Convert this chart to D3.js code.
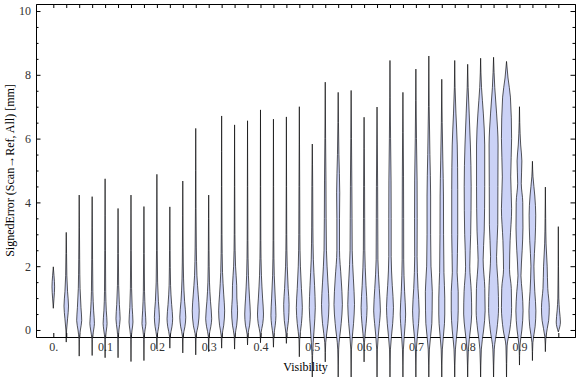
<!DOCTYPE html>
<html>
<head>
<meta charset="utf-8">
<script src="https://cdn.jsdelivr.net/npm/d3@7"></script>
<style>
  body { margin: 0; background: #fff; }
  svg { display: block; }
</style>
</head>
<body>
<div id="chart"></div>
<script>
// visibility bins (one violin per bin)
const visibility = [0, 0.025, 0.05, 0.075, 0.1, 0.125, 0.15, 0.175, 0.2, 0.225,
  0.25, 0.275, 0.3, 0.325, 0.35, 0.375, 0.4, 0.425, 0.45, 0.475,
  0.5, 0.525, 0.55, 0.575, 0.6, 0.625, 0.65, 0.675, 0.7, 0.725,
  0.75, 0.775, 0.8, 0.825, 0.85, 0.875, 0.9, 0.925, 0.95, 0.975];

// density profile of each violin: [signed error in mm, relative density]
const violins = [
  [[0.68,0],[1.0,0.12],[1.35,0.22],[1.7,0.12],[1.98,0]],
  [[-0.38,0],[0,0.06],[0.35,0.22],[0.75,0.38],[1.2,0.22],[1.7,0.1],[2.4,0.05],[3.06,0]],
  [[-0.82,0],[-0.3,0.04],[0,0.2],[0.3,0.42],[0.7,0.3],[1.3,0.15],[2.2,0.08],[3.2,0.04],[4.23,0]],
  [[-0.8,0],[-0.3,0.04],[0,0.25],[0.2,0.38],[0.6,0.25],[1.2,0.12],[2.2,0.07],[3.2,0.04],[4.18,0]],
  [[-0.87,0],[-0.3,0.04],[0,0.22],[0.2,0.33],[0.6,0.2],[1.2,0.1],[2.5,0.06],[3.6,0.03],[4.74,0]],
  [[-0.87,0],[-0.3,0.04],[0,0.15],[0.35,0.35],[0.8,0.22],[1.4,0.1],[2.4,0.05],[3.81,0]],
  [[-0.99,0],[-0.3,0.04],[0,0.18],[0.25,0.33],[0.7,0.2],[1.3,0.1],[2.5,0.05],[4.23,0]],
  [[-0.96,0],[-0.3,0.04],[0,0.18],[0.2,0.33],[0.6,0.22],[1.2,0.1],[2.4,0.05],[3.87,0]],
  [[-0.6,0],[-0.2,0.05],[0.1,0.3],[0.4,0.42],[0.9,0.25],[1.5,0.12],[2.5,0.06],[3.7,0.03],[4.88,0]],
  [[-0.57,0],[-0.2,0.06],[0.1,0.35],[0.35,0.47],[0.8,0.3],[1.4,0.12],[2.5,0.05],[3.86,0]],
  [[-0.72,0],[-0.2,0.06],[0.1,0.35],[0.4,0.5],[0.9,0.3],[1.6,0.13],[2.6,0.06],[3.6,0.03],[4.67,0]],
  [[-0.78,0],[-0.2,0.06],[0.15,0.4],[0.6,0.58],[1.1,0.42],[1.7,0.2],[2.6,0.1],[3.8,0.05],[5,0.03],[6.32,0]],
  [[-0.68,0],[-0.2,0.06],[0.1,0.35],[0.35,0.5],[0.9,0.3],[1.5,0.13],[2.5,0.06],[3.5,0.03],[4.23,0]],
  [[-0.57,0],[-0.2,0.06],[0.15,0.35],[0.6,0.5],[1.1,0.35],[1.8,0.15],[3,0.06],[4.5,0.03],[5.6,0.02],[6.71,0]],
  [[-0.6,0],[-0.2,0.06],[0.15,0.35],[0.6,0.5],[1.0,0.38],[1.4,0.35],[2.0,0.16],[3,0.06],[4.5,0.03],[6.43,0]],
  [[-0.47,0],[-0.15,0.06],[0.15,0.35],[0.5,0.47],[1.0,0.33],[1.7,0.15],[2.8,0.06],[4.5,0.03],[6.56,0]],
  [[-0.4,0],[-0.1,0.08],[0.2,0.38],[0.5,0.5],[1.0,0.35],[1.7,0.16],[2.8,0.06],[4.5,0.03],[6.9,0]],
  [[-0.54,0],[-0.2,0.06],[0.15,0.3],[0.45,0.42],[1.0,0.3],[1.7,0.14],[2.8,0.06],[4.5,0.03],[6.61,0]],
  [[-0.42,0],[-0.1,0.08],[0.3,0.35],[0.8,0.45],[1.3,0.3],[2.0,0.14],[3,0.06],[4.5,0.03],[6.68,0]],
  [[-0.84,0],[-0.3,0.06],[0.2,0.35],[0.7,0.5],[1.3,0.35],[2.0,0.18],[3,0.09],[4.5,0.06],[5.8,0.03],[7.0,0]],
  [[-1.6,0],[-0.8,0.05],[0,0.3],[0.7,0.5],[1.4,0.38],[2.2,0.18],[3.2,0.1],[4.5,0.07],[5.2,0.04],[5.83,0]],
  [[-1.0,0],[-0.4,0.08],[0.2,0.45],[0.8,0.62],[1.5,0.45],[2.5,0.2],[3.5,0.15],[4.7,0.12],[6,0.06],[7.77,0]],
  [[-1.6,0],[-0.6,0.08],[0.2,0.5],[0.8,0.7],[1.6,0.5],[2.5,0.22],[3.5,0.22],[4.3,0.26],[5.5,0.12],[6.5,0.05],[7.45,0]],
  [[-1.6,0],[-0.6,0.06],[0.2,0.4],[0.8,0.56],[1.6,0.38],[2.5,0.18],[3.5,0.15],[4.5,0.12],[6,0.06],[7.51,0]],
  [[-1.0,0],[-0.4,0.06],[0.2,0.35],[0.7,0.5],[1.4,0.32],[2.5,0.12],[3.5,0.1],[4.5,0.08],[5.7,0.04],[6.67,0]],
  [[-1.6,0],[-0.6,0.06],[0.2,0.4],[0.6,0.56],[1.3,0.38],[2.2,0.15],[3.5,0.12],[4.5,0.1],[5.8,0.05],[6.99,0]],
  [[-1.6,0],[-0.6,0.08],[0.2,0.45],[0.7,0.58],[1.4,0.38],[2.3,0.2],[3.5,0.2],[4.7,0.18],[6,0.1],[7.3,0.04],[8.45,0]],
  [[-1.6,0],[-0.6,0.08],[0.2,0.38],[0.5,0.45],[1.2,0.28],[2.2,0.13],[3.5,0.12],[4.8,0.1],[6.2,0.05],[7.45,0]],
  [[-1.6,0],[-0.6,0.08],[0.2,0.45],[0.6,0.55],[1.3,0.36],[2.3,0.2],[3.5,0.22],[4.7,0.2],[6,0.1],[7.2,0.04],[8.18,0]],
  [[-1.6,0],[-0.6,0.1],[0.2,0.5],[0.6,0.55],[1.2,0.58],[2.0,0.36],[3,0.3],[4.2,0.3],[5.5,0.18],[7,0.06],[8.59,0]],
  [[-1.6,0],[-0.6,0.1],[0.2,0.45],[0.5,0.5],[1.0,0.5],[1.8,0.36],[3,0.3],[4.2,0.28],[5.3,0.18],[6.5,0.07],[7.86,0]],
  [[-1.6,0],[-0.6,0.12],[0,0.42],[0.6,0.58],[1.2,0.58],[1.8,0.4],[3,0.5],[4.4,0.5],[5.8,0.42],[6.8,0.2],[7.6,0.06],[8.45,0]],
  [[-1.6,0],[-0.6,0.12],[0,0.45],[0.5,0.67],[1.2,0.6],[2.0,0.35],[3,0.5],[4.5,0.58],[5.8,0.45],[6.8,0.25],[7.6,0.08],[8.33,0]],
  [[-1.6,0],[-0.6,0.12],[0,0.5],[0.6,0.75],[1.3,0.7],[2.2,0.42],[3.1,0.6],[4.5,0.68],[5.8,0.68],[6.8,0.45],[7.6,0.15],[8.52,0]],
  [[-1.6,0],[-0.6,0.12],[0,0.55],[0.7,0.83],[1.4,0.75],[2.3,0.5],[3.3,0.7],[4.5,0.72],[5.8,0.75],[6.8,0.5],[7.6,0.2],[8.55,0]],
  [[-1.6,0],[-0.5,0.1],[0,0.55],[0.7,0.85],[1.3,0.8],[1.9,0.5],[2.8,0.6],[3.8,0.85],[4.8,0.7],[6,0.85],[7.3,0.65],[7.9,0.25],[8.42,0]],
  [[-1.1,0],[-0.5,0.08],[0,0.4],[0.6,0.6],[1.2,0.45],[1.7,0.25],[2.5,0.45],[3.2,0.58],[4.0,0.55],[4.6,0.3],[5.3,0.4],[5.8,0.2],[6.5,0.05],[7.0,0]],
  [[-0.96,0],[-0.4,0.08],[0.1,0.45],[0.6,0.58],[1.2,0.4],[2.0,0.25],[2.8,0.45],[3.6,0.55],[4.2,0.4],[4.8,0.1],[5.29,0]],
  [[-0.68,0],[-0.2,0.1],[0.3,0.55],[0.7,0.65],[1.3,0.4],[2.0,0.3],[2.7,0.12],[3.5,0.05],[4.48,0]],
  [[-0.06,0],[0.25,0.35],[0.6,0.2],[1.0,0.08],[2.0,0.03],[3.24,0]]
];

// tick labels
const xTickValues = [0, 0.1, 0.2, 0.3, 0.4, 0.5, 0.6, 0.7, 0.8, 0.9];
const xTickLabels = ["0.", "0.1", "0.2", "0.3", "0.4", "0.5", "0.6", "0.7", "0.8", "0.9"];
const yMajorTicks = [0, 2, 4, 6, 8, 10];
const yMinorTicks = [0.5, 1, 1.5, 2.5, 3, 3.5, 4.5, 5, 5.5, 6.5, 7, 7.5, 8.5, 9, 9.5];

const width = 576, height = 377;
const margin = { top: 4, right: 1, bottom: 40, left: 36 };
const font = "'Liberation Serif', 'Times New Roman', serif";

const svg = d3.select("#chart")
  .append("svg")
  .attr("width", width)
  .attr("height", height);

const x = d3.scaleLinear()
  .domain([-0.0334, 1.0072])
  .range([margin.left, width - margin.right]);

const y = d3.scaleLinear()
  .domain([-0.22, 10.22])
  .range([height - margin.bottom, margin.top]);

// relative density -> half width in px
const w = d3.scaleLinear().domain([0, 1]).range([0, 6]);

// frame with inward ticks
function styleAxis(g) {
  g.selectAll("path.domain").attr("stroke", "#000").attr("stroke-width", 1);
  g.selectAll(".tick line").attr("stroke", "#000");
  g.selectAll("text")
    .style("font-family", font)
    .style("font-size", "12px")
    .attr("fill", "#333");
}

svg.append("g")
  .attr("transform", `translate(0,${height - margin.bottom})`)
  .call(d3.axisBottom(x).tickValues(visibility).tickSize(-4).tickSizeOuter(0).tickFormat(""))
  .call(styleAxis);

svg.append("g")
  .attr("transform", `translate(0,${height - margin.bottom})`)
  .call(d3.axisBottom(x).tickValues(xTickValues).tickSize(0).tickPadding(5)
    .tickFormat((d, i) => xTickLabels[i]))
  .call(g => g.select(".domain").remove())
  .call(styleAxis);

svg.append("g")
  .attr("transform", `translate(0,${margin.top})`)
  .call(d3.axisTop(x).tickValues(visibility).tickSize(-4).tickSizeOuter(0).tickFormat(""))
  .call(styleAxis);

svg.append("g")
  .attr("transform", `translate(${margin.left},0)`)
  .call(d3.axisLeft(y).tickValues(yMinorTicks).tickSize(-2.5).tickSizeOuter(0).tickFormat(""))
  .call(styleAxis);

svg.append("g")
  .attr("transform", `translate(${margin.left},0)`)
  .call(d3.axisLeft(y).tickValues(yMajorTicks).tickSize(-4.5).tickSizeOuter(0).tickPadding(5)
    .tickFormat(d3.format("d")))
  .call(styleAxis);

svg.append("g")
  .attr("transform", `translate(${width - margin.right},0)`)
  .call(d3.axisRight(y).tickValues(yMinorTicks).tickSize(-2.5).tickSizeOuter(0).tickFormat(""))
  .call(styleAxis);

svg.append("g")
  .attr("transform", `translate(${width - margin.right},0)`)
  .call(d3.axisRight(y).tickValues(yMajorTicks).tickSize(-4.5).tickSizeOuter(0).tickFormat(""))
  .call(styleAxis);

// violins
const area = d3.area()
  .curve(d3.curveMonotoneY);

svg.append("g")
  .selectAll("path")
  .data(violins)
  .join("path")
  .attr("d", (d, i) => {
    const cx = x(visibility[i]);
    return area
      .y(p => y(p[0]))
      .x0(p => cx - w(p[1]))
      .x1(p => cx + w(p[1]))(d);
  })
  .attr("fill", "#cbd2f6")
  .attr("stroke", "#000")
  .attr("stroke-opacity", 0.65)
  .attr("stroke-width", 1);

// axis titles
svg.append("text")
  .attr("x", (margin.left + width - margin.right) / 2)
  .attr("y", 371)
  .attr("text-anchor", "middle")
  .style("font-family", font)
  .style("font-size", "12px")
  .text("Visibility");

svg.append("text")
  .attr("transform", `translate(14,${(margin.top + height - margin.bottom) / 2}) rotate(-90)`)
  .attr("text-anchor", "middle")
  .style("font-family", font)
  .style("font-size", "12px")
  .text("SignedError (Scan\u2192Ref, All) [mm]");
</script>
</body>
</html>
